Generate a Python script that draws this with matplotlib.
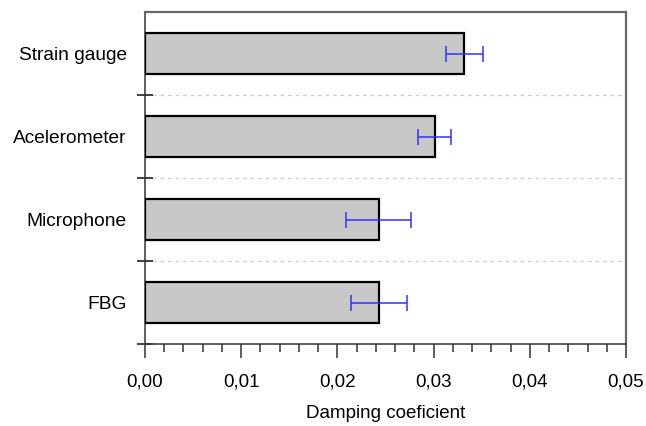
import matplotlib.pyplot as plt
from matplotlib.ticker import FuncFormatter, MultipleLocator, FixedLocator

plt.rcParams['font.family'] = ['Liberation Sans', 'DejaVu Sans']

# Damping coefficient per sensor (bottom to top) with error half-widths
sensors = ['FBG', 'Microphone', 'Acelerometer', 'Strain gauge']
damping = [0.0243, 0.0243, 0.0301, 0.0332]
errors = [0.0029, 0.0034, 0.0017, 0.0019]
xticks = [0.00, 0.01, 0.02, 0.03, 0.04, 0.05]

fig = plt.figure(figsize=(6.46, 4.26), dpi=100)
ax = fig.add_axes([145 / 646, 1 - 344 / 426, 481 / 646, 332 / 426])

pos = list(range(len(sensors)))
ax.barh(pos, damping, height=0.5, color='#c8c8c8', edgecolor='black',
        linewidth=1.6, zorder=3)
ax.errorbar(damping, pos, xerr=errors, fmt='none', ecolor='#3030ff',
            elinewidth=1.1, capsize=5.6, capthick=1.1, zorder=4)

ax.set_xlim(0, 0.05)
ax.set_ylim(-0.5, 3.5)

ax.set_xticks(xticks)
ax.xaxis.set_minor_locator(MultipleLocator(0.002))
ax.xaxis.set_major_formatter(FuncFormatter(lambda v, p: f'{v:.2f}'.replace('.', ',')))
ax.tick_params(axis='x', which='major', direction='out', length=10, width=1.1,
               labelsize=13.5, pad=11, color='#333333')
ax.tick_params(axis='x', which='minor', direction='out', length=6, width=1.1,
               color='#333333')

ax.set_yticks(pos)
ax.set_yticklabels(sensors)
ax.yaxis.set_minor_locator(FixedLocator([-0.5, 0.5, 1.5, 2.5]))
ax.tick_params(axis='y', which='major', length=0, labelsize=13.8, pad=13)
ax.tick_params(axis='y', which='minor', direction='inout', length=12, width=1.3,
               color='#333333')
ax.grid(axis='y', which='minor', color='#cccccc', linestyle=(0, (3, 3)),
        linewidth=0.9, zorder=0)

for side in ['top', 'right']:
    ax.spines[side].set_color('#666666')
    ax.spines[side].set_linewidth(1.6)
for side in ['left', 'bottom']:
    ax.spines[side].set_color('#333333')
    ax.spines[side].set_linewidth(1.1)

ax.set_xlabel('Damping coeficient', fontsize=13.5, labelpad=11)

fig.savefig('out.png', dpi=100)
